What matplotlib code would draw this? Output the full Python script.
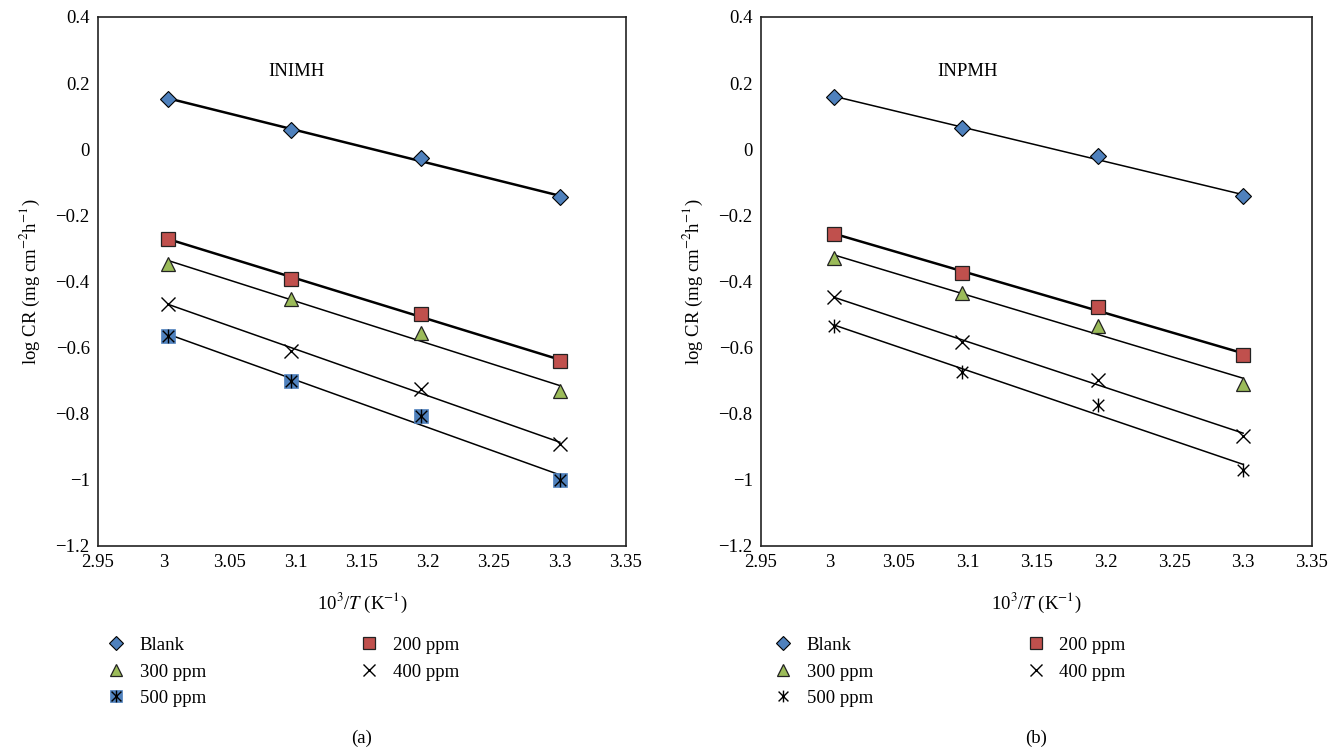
import matplotlib
matplotlib.use("Agg")
import matplotlib.pyplot as plt
import numpy as np
from matplotlib.path import Path
from matplotlib.ticker import MultipleLocator, FuncFormatter

plt.rcParams["font.family"] = ["Liberation Serif", "DejaVu Serif"]
plt.rcParams["mathtext.fontset"] = "stix"

# 10^3/T for 333, 323, 313, 303 K
inv_T = [3.003, 3.096, 3.195, 3.300]
series = ["Blank", "200 ppm", "300 ppm", "400 ppm", "500 ppm"]

# log CR
inimh = {
    "Blank":   [0.153, 0.058, -0.027, -0.146],
    "200 ppm": [-0.271, -0.392, -0.498, -0.641],
    "300 ppm": [-0.347, -0.453, -0.556, -0.732],
    "400 ppm": [-0.468, -0.609, -0.724, -0.893],
    "500 ppm": [-0.564, -0.701, -0.806, -1.001],
}
inpmh = {
    "Blank":   [0.159, 0.063, -0.022, -0.143],
    "200 ppm": [-0.256, -0.374, -0.478, -0.623],
    "300 ppm": [-0.329, -0.436, -0.536, -0.709],
    "400 ppm": [-0.448, -0.584, -0.699, -0.866],
    "500 ppm": [-0.535, -0.674, -0.775, -0.969],
}

BLUE, RED, GREEN = "#4F81BD", "#C0504D", "#9BBB59"

# excel-style "star": an x with a vertical bar through it
star = Path([(-1, -1), (1, 1), (-1, 1), (1, -1), (0, -1.2), (0, 1.2)],
            [Path.MOVETO, Path.LINETO, Path.MOVETO, Path.LINETO, Path.MOVETO, Path.LINETO])

FS = 13.5


def fmt(v, _):
    s = f"{v:.2f}".rstrip("0").rstrip(".")
    if s in ("-0", "0"):
        s = "0"
    return s.replace("-", "\u2212")


def panel(ax, data, name, filled_star, fit_lw, leg_x):
    x = np.array(inv_T)
    handles = {}
    for key in series:
        y = np.array(data[key])
        k, b = np.polyfit(x, y, 1)
        ax.plot([x[0], x[-1]], [k * x[0] + b, k * x[-1] + b], color="black",
                lw=fit_lw.get(key, 1.1), zorder=2)
    style = {
        "Blank": dict(marker="D", ms=8.5, mfc=BLUE, mec="black", mew=0.8),
        "200 ppm": dict(marker="s", ms=10, mfc=RED, mec="#222222", mew=0.9),
        "300 ppm": dict(marker="^", ms=10, mfc=GREEN, mec="#222222", mew=0.9),
        "400 ppm": dict(marker="x", ms=10, mfc="none", mec="black", mew=1.0),
    }
    for key, st in style.items():
        h, = ax.plot(x, data[key], ls="none", zorder=3, **st)
        handles[key] = h
    if filled_star:
        h1, = ax.plot(x, data["500 ppm"], ls="none", marker="s", ms=10.5,
                      mfc=BLUE, mec=BLUE, mew=0.5, zorder=3)
        h2, = ax.plot(x, data["500 ppm"], ls="none", marker=star, ms=10,
                      mfc="none", mec="black", mew=1.0, zorder=4)
        handles["500 ppm"] = (h1, h2)
    else:
        h2, = ax.plot(x, data["500 ppm"], ls="none", marker=star, ms=10,
                      mfc="none", mec="black", mew=1.0, zorder=4)
        handles["500 ppm"] = h2

    ax.set_xlim(2.95, 3.35)
    ax.set_ylim(-1.2, 0.4)
    ax.xaxis.set_major_locator(MultipleLocator(0.05))
    ax.yaxis.set_major_locator(MultipleLocator(0.2))
    ax.xaxis.set_major_formatter(FuncFormatter(fmt))
    ax.yaxis.set_major_formatter(FuncFormatter(fmt))
    ax.tick_params(length=0, labelsize=FS, pad=6)
    for sp in ax.spines.values():
        sp.set_linewidth(1.2)
        sp.set_color("#222222")
    ax.set_xlabel(r"10$^3$/$T$ (K$^{-1}$)", fontsize=FS, labelpad=14)
    ax.set_ylabel(r"log CR (mg cm$^{-2}$h$^{-1}$)", fontsize=FS, labelpad=10)
    ax.text(3.1, 0.235, name, fontsize=FS, ha="center", va="center")

    order = ["Blank", "300 ppm", "500 ppm", "200 ppm", "400 ppm"]
    ax.legend([handles[k] for k in order], order, loc="upper left",
              bbox_to_anchor=(leg_x, -0.14), ncol=2, frameon=False,
              fontsize=FS, columnspacing=7.95, handletextpad=0.5,
              labelspacing=0.5, handlelength=1.5, markerscale=0.85)


fig = plt.figure(figsize=(13.43, 7.52), dpi=100)
ax1 = fig.add_axes([0.073, 0.274, 0.393, 0.7035])
ax2 = fig.add_axes([0.5666, 0.274, 0.4103, 0.7035])

panel(ax1, inimh, "INIMH", True, {"Blank": 1.8, "200 ppm": 1.8}, -0.024)
panel(ax2, inpmh, "INPMH", False, {"200 ppm": 1.8}, -0.016)

fig.text((98 + 626) / 2 / 1343, 0.012, "(a)", fontsize=FS, ha="center")
fig.text((761 + 1312) / 2 / 1343, 0.012, "(b)", fontsize=FS, ha="center")

fig.savefig("out.png", dpi=100)
